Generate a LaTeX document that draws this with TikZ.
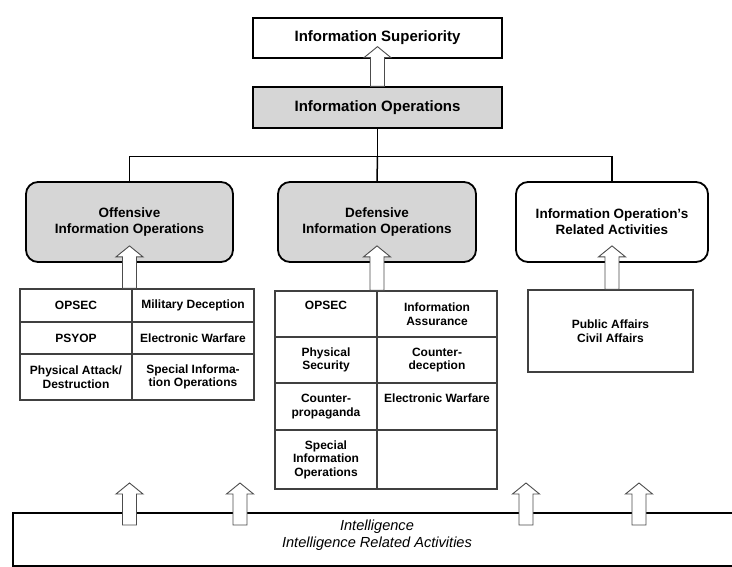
\documentclass[tikz,border=0pt]{standalone}
\usepackage{fontspec}
\setmainfont{Liberation Sans}
\usetikzlibrary{calc}
\definecolor{boxgray}{RGB}{214,214,214}
\tikzset{
	topbox/.style={draw, line width=1.3pt, minimum width=249pt, inner sep=0pt, font=\bfseries\fontsize{15}{17}\selectfont},
	opbox/.style={draw, line width=1.8pt, rounded corners=12pt, minimum height=80pt, inner sep=0pt, align=center, font=\bfseries\fontsize{13.5}{16}\selectfont},
	cell/.style={draw=black!75, line width=1.1pt, inner sep=0pt, align=center, font=\bfseries\fontsize{12}{13.5}\selectfont},
	tree/.style={line width=1.5pt},
	blockarr/.style={draw=black!70, line width=0.9pt, fill=white}
}
\def\blockarrow(#1)(#2){\draw[blockarr] let \p1=(#1), \p2=(#2) in (\x1-7pt,\y1) -- (\x1-7pt,\y2-11pt) -- (\x1-13.5pt,\y2-11pt) -- (\x1,\y2) -- (\x1+13.5pt,\y2-11pt) -- (\x1+7pt,\y2-11pt) -- (\x1+7pt,\y1) -- cycle;}

\begin{document}
\begin{tikzpicture}[x=1pt, y=-1pt]
	%%%%% START %%%%%
	\useasboundingbox (0,0) rectangle (732,567);
	\clip (0,0) rectangle (732,567);
	
	% top of the tree
	\node[topbox, minimum height=40pt] (is) at (377.5,38) {Information Superiority};
	\node[topbox, minimum height=41pt, fill=boxgray] (io) at (377.5,107.5) {Information Operations};
	
	\node[opbox, minimum width=207pt, fill=boxgray] (off) at (129.5,222) {Offensive\\Information Operations};
	\node[opbox, minimum width=198pt, fill=boxgray] (def) at (377,222) {Defensive\\Information Operations};
	\node[opbox, minimum width=192pt] (rel) at (612,222) {Information Operation’s\\Related Activities};
	
	\draw[tree] (io.south) -- ++(0,28) coordinate (hub);
	\draw[tree] (off.north) |- (hub) -| (rel.north);
	\draw[tree] (hub) -- (def.north);
	
	% offensive table
	\node[cell, minimum width=112pt, minimum height=33pt] (o11) at (76,305.5) {OPSEC};
	\node[cell, minimum width=122pt, minimum height=33pt] (o12) at (193,305.5) {Military Deception};
	\node[cell, minimum width=112pt, minimum height=32pt] (o21) at (76,338) {PSYOP};
	\node[cell, minimum width=122pt, minimum height=32pt] (o22) at (193,338) {Electronic Warfare};
	\node[cell, minimum width=112pt, minimum height=46pt] (o31) at (76,377) {Physical Attack/\\Destruction};
	\node[cell, minimum width=122pt, minimum height=46pt] (o32) at (193,377) {Special Informa-\\tion Operations};
	
	% defensive table
	\node[cell, minimum width=102pt, minimum height=46pt] (d11) at (326,314) {OPSEC\\\strut};
	\node[cell, minimum width=120pt, minimum height=46pt] (d12) at (437,314) {Information\\Assurance};
	\node[cell, minimum width=102pt, minimum height=46pt] (d21) at (326,360) {Physical\\Security};
	\node[cell, minimum width=120pt, minimum height=46pt] (d22) at (437,360) {Counter-\\deception};
	\node[cell, minimum width=102pt, minimum height=47pt] (d31) at (326,406.5) {Counter-\\propaganda};
	\node[cell, minimum width=120pt, minimum height=47pt] (d32) at (437,406.5) {Electronic Warfare\\\strut};
	\node[cell, minimum width=102pt, minimum height=59pt] (d41) at (326,459.5) {Special\\Information\\Operations};
	\node[cell, minimum width=120pt, minimum height=59pt] (d42) at (437,459.5) {};
	
	% related activities
	\node[cell, minimum width=165pt, minimum height=82pt, font=\bfseries\fontsize{12}{14}\selectfont] (ra) at (610.5,331) {Public Affairs\\Civil Affairs};
	
	% intelligence
	\node[draw, line width=1.3pt, minimum width=739pt, minimum height=53pt] (intel) at (382.5,539.5) {};
	\node[align=center, font=\itshape\fontsize{14.6}{16.5}\selectfont] (inteltxt) at (377,535) {Intelligence\\Intelligence Related Activities};
	
	% block arrows
	\coordinate (istip) at ($(is.south)+(0,-12)$);
	\coordinate (offtip) at ($(off.south)+(0,-17)$);
	\coordinate (deftip) at ($(def.south)+(0,-17)$);
	\coordinate (reltip) at ($(rel.south)+(0,-17)$);
	\blockarrow(io.north)(istip)
	\blockarrow(offtip |- o11.north)(offtip)
	\blockarrow(deftip |- d11.north)(deftip)
	\blockarrow(reltip |- ra.north)(reltip)
	\foreach \ax in {129.5,240,526,639} {\blockarrow(\ax,525)(\ax,483)}
	%%%%% END %%%%%
\end{tikzpicture}
\end{document}
